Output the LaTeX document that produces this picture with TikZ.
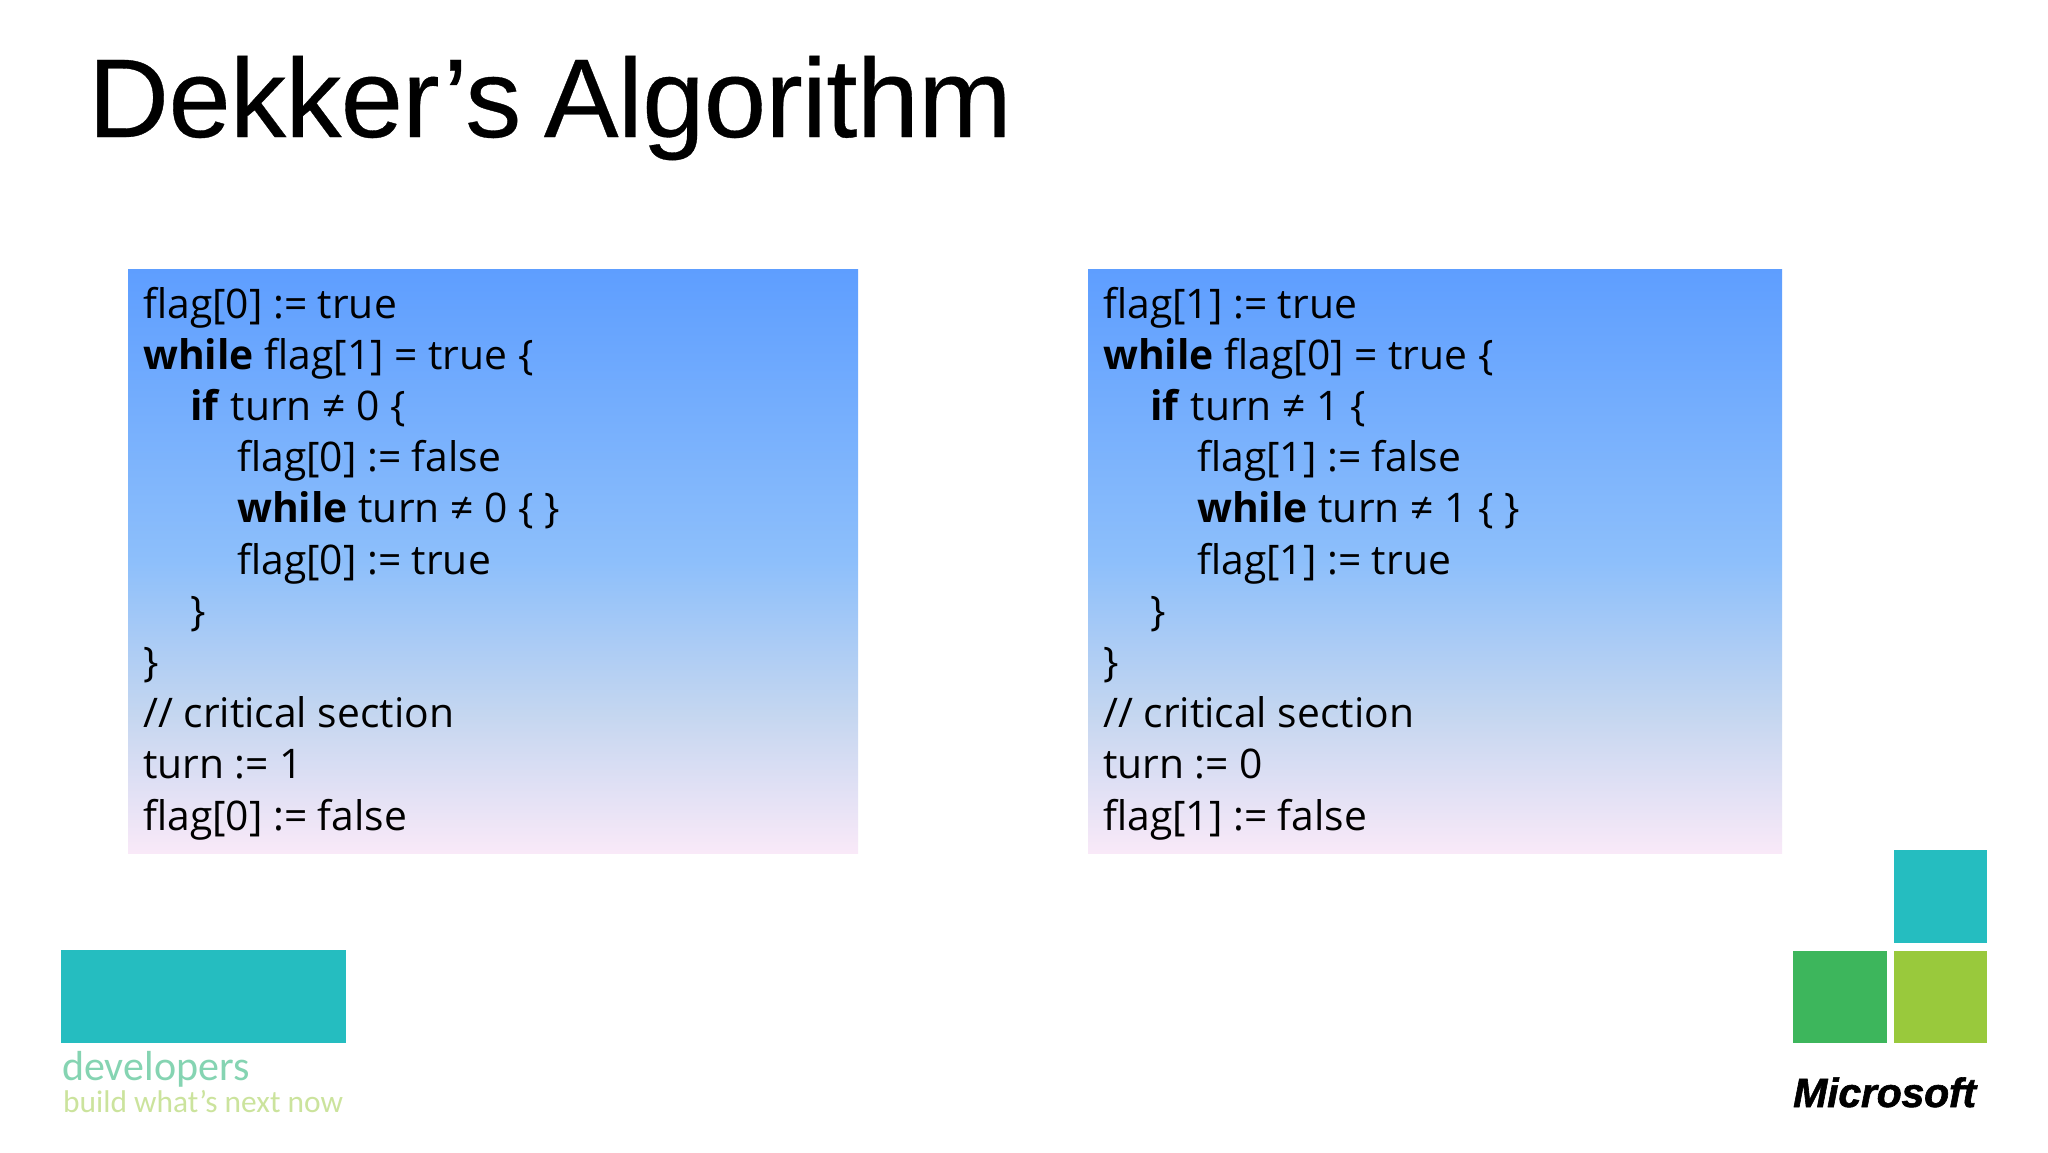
\documentclass[tikz,border=0pt]{standalone}
\usepackage{fontspec}
\setmainfont{Open Sans}
\newfontfamily\titlefont[LetterSpace=-0.6,WordSpace=0.75,FakeBold=0.3]{Liberation Sans}
\newfontfamily\msfont[FakeBold=1.5,LetterSpace=-0.5]{Liberation Sans}
\newfontfamily\logofont{Carlito}
\definecolor{tileteal}{HTML}{25BDC0}
\definecolor{msgreen}{HTML}{3DB65C}
\definecolor{mslime}{HTML}{99C93C}
\definecolor{gradA}{HTML}{F9E9F8}
\definecolor{gradB}{HTML}{C4D6F0}
\definecolor{gradC}{HTML}{8DBFFB}
\definecolor{gradD}{HTML}{5E9EFF}
\pgfdeclareverticalshading{boxgrad}{100bp}{color(0bp)=(gradA); color(25bp)=(gradA); color(37bp)=(gradB); color(50bp)=(gradC); color(75bp)=(gradD); color(100bp)=(gradD)}
\tikzset{
  codeline/.style={anchor=base west,inner sep=0pt,font=\fontsize{40.8}{48}\selectfont,text=black},
  codebox/.style={shading=boxgrad,draw=none},
  tile/.style={fill=#1,draw=none}
}
\newcommand{\kwd}[1]{\textbf{#1}}
\begin{document}
\begin{tikzpicture}[x=1pt,y=-1pt]
\useasboundingbox (0,0) rectangle (2048,1152);
\fill[white] (0,0) rectangle (2048,1152);
\node[anchor=base west,inner sep=0pt,font=\titlefont\fontsize{112}{130}\selectfont] (title) at (88,137) {Dekker’s Algorithm};
\shade[codebox] (128,269) rectangle (858,853);
\shade[codebox] (1088,269) rectangle (1782,853);
% left column
\node[codeline] (l1) at (143,318) {flag[0] := true};
\node[codeline] (l2) at (143,369.2) {\kwd{while} flag[1] = true \{};
\node[codeline] (l3) at (190,420.4) {\kwd{if} turn ≠ 0 \{};
\node[codeline] (l4) at (237,471.6) {flag[0] := false};
\node[codeline] (l5) at (237,522.8) {\kwd{while} turn ≠ 0 \{ \}};
\node[codeline] (l6) at (237,574) {flag[0] := true};
\node[codeline] (l7) at (190,625.2) {\}};
\node[codeline] (l8) at (143,676.4) {\}};
\node[codeline] (l9) at (143,727.6) {// critical section};
\node[codeline] (l10) at (143,778.8) {turn := 1};
\node[codeline] (l11) at (143,830) {flag[0] := false};
% right column
\node[codeline] (r1) at (1103,318) {flag[1] := true};
\node[codeline] (r2) at (1103,369.2) {\kwd{while} flag[0] = true \{};
\node[codeline] (r3) at (1150,420.4) {\kwd{if} turn ≠ 1 \{};
\node[codeline] (r4) at (1197,471.6) {flag[1] := false};
\node[codeline] (r5) at (1197,522.8) {\kwd{while} turn ≠ 1 \{ \}};
\node[codeline] (r6) at (1197,574) {flag[1] := true};
\node[codeline] (r7) at (1150,625.2) {\}};
\node[codeline] (r8) at (1103,676.4) {\}};
\node[codeline] (r9) at (1103,727.6) {// critical section};
\node[codeline] (r10) at (1103,778.8) {turn := 0};
\node[codeline] (r11) at (1103,830) {flag[1] := false};
% logos
\fill[tile=tileteal] (61,950) rectangle (346,1043);
\node[anchor=base west,inner sep=0pt,text=msgreen!65!tileteal,opacity=.6,font=\logofont\fontsize{42}{50}\selectfont] (dev) at (62,1080) {developers};
\node[anchor=base west,inner sep=0pt,text=mslime,opacity=.5,font=\logofont\fontsize{31.4}{38}\selectfont] (build) at (63,1112) {build what’s next now};
\fill[tile=tileteal] (1894,850) rectangle (1987,943);
\fill[tile=msgreen] (1793,951) rectangle (1887,1043);
\fill[tile=mslime] (1894,951) rectangle (1987,1043);
\node[anchor=base west,inner sep=0pt,font=\msfont\bfseries\itshape\fontsize{41}{48}\selectfont] (ms) at (1793,1107) {Microsoft};
\end{tikzpicture}
\end{document}
